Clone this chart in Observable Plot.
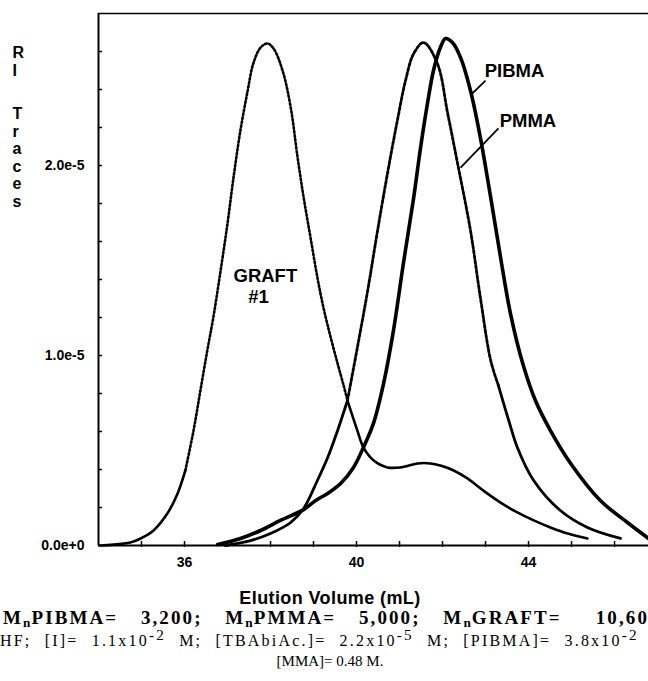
<!DOCTYPE html>
<html>
<head>
<meta charset="utf-8">
<script src="https://cdn.jsdelivr.net/npm/d3@7"></script>
<script src="https://cdn.jsdelivr.net/npm/@observablehq/plot@0.6"></script>
<style>
html, body { margin: 0; padding: 0; background: #fff; width: 648px; height: 681px; overflow: hidden; }
#chart svg { display: block; }
.cap { position: relative; width: 648px; height: 106px; overflow: hidden; color: #000; }
.cap div { position: absolute; white-space: nowrap; line-height: 20px; }
.xl { font: bold 18px "Liberation Sans", Arial, sans-serif; letter-spacing: 0.4px; left: 0; width: 660px; text-align: center; top: 13px; }
.l1 { font: bold 19px "Liberation Serif", "Times New Roman", serif; letter-spacing: 2.1px; word-spacing: 4.5px; left: 3px; top: 33px; }
.l2 { font: 16px "Liberation Serif", "Times New Roman", serif; letter-spacing: 2.2px; word-spacing: 7px; left: -12px; top: 56px; }
.l3 { font: 15px "Liberation Serif", "Times New Roman", serif; left: 0; width: 660px; text-align: center; top: 76px; }
sub { font-size: 70%; vertical-align: -0.2em; line-height: 0; letter-spacing: 1px; }
sup { font-size: 95%; vertical-align: 0.4em; line-height: 0; }
</style>
</head>
<body>
<div id="chart"></div>
<div class="cap">
  <div class="xl">Elution Volume (mL)</div>
  <div class="l1">M<sub>n</sub>PIBMA=&nbsp; 3,200;&nbsp; M<sub>n</sub>PMMA=&nbsp; 5,000;&nbsp; M<sub>n</sub>GRAFT=&nbsp;&nbsp; 10,600</div>
  <div class="l2">THF; [I]= 1.1x10<sup>-2</sup> M; [TBAbiAc.]= 2.2x10<sup>-5</sup> M; [PIBMA]= 3.8x10<sup>-2</sup> M;</div>
  <div class="l3">[MMA]= 0.48 M.</div>
</div>
<script>
// Elution volume (mL) and RI trace (units of 1e-5)
const graftX  = [34.05,34.74,34.98,35.28,35.60,35.84,36.02,36.21,36.37,36.53,36.67,36.84,37.00,37.14,37.30,37.47,37.60,37.77,37.93,38.07,38.28,38.47,38.63,38.77,38.93,39.09,39.23,39.40,39.56,39.70,39.79,40.02,40.16,40.40,40.72,41.02,41.42,41.72,41.95,42.26,42.58,42.95,43.35,43.74,44.12,44.51,44.91,45.37];
const graftRI = [0.000,0.016,0.037,0.079,0.168,0.274,0.395,0.605,0.816,1.026,1.200,1.447,1.695,1.937,2.184,2.395,2.537,2.621,2.642,2.616,2.500,2.305,2.042,1.832,1.621,1.411,1.253,1.095,0.958,0.842,0.763,0.605,0.516,0.447,0.411,0.411,0.432,0.432,0.421,0.395,0.353,0.289,0.226,0.174,0.132,0.095,0.063,0.037];

const pmmaX  = [36.95,37.54,38.00,38.47,38.77,39.09,39.33,39.56,39.79,40.02,40.26,40.49,40.72,40.95,41.14,41.33,41.56,41.88,42.12,42.35,42.65,42.88,43.12,43.30,43.54,43.74,44.12,44.74,45.37,46.14];
const pmmaRI = [0.000,0.026,0.063,0.121,0.195,0.342,0.463,0.605,0.763,1.042,1.342,1.658,1.958,2.237,2.447,2.589,2.647,2.537,2.274,2.011,1.658,1.305,0.974,0.842,0.658,0.516,0.342,0.184,0.095,0.037];

const pibmaX  = [36.77,37.30,37.77,38.23,38.77,39.05,39.33,39.63,39.93,40.16,40.40,40.63,40.86,41.09,41.33,41.49,41.65,41.79,41.95,42.07,42.23,42.42,42.65,42.88,43.12,43.35,43.58,43.88,44.16,44.51,44.98,45.67,46.30,46.79];
const pibmaRI = [0.005,0.037,0.079,0.132,0.189,0.237,0.274,0.326,0.411,0.516,0.647,0.853,1.132,1.484,1.832,2.095,2.326,2.500,2.621,2.668,2.647,2.568,2.395,2.147,1.832,1.516,1.221,0.947,0.763,0.605,0.432,0.237,0.121,0.037];

const yTickValues = [0, 1e-5, 2e-5];
const yTickLabels = ["0.0e+0", "1.0e-5", "2.0e-5"];
const yMinorTicks = [0,2e-6,4e-6,6e-6,8e-6,1e-5,1.2e-5,1.4e-5,1.6e-5,1.8e-5,2e-5,2.2e-5,2.4e-5,2.6e-5];
const xTickValues = [36, 40, 44];
const xTickLabels = ["36", "40", "44"];
const xMinorTicks = [35,36,37,38,39,40,41,42,43,44,45,46];
const yAxisWords = ["R\nI", "T\nr\na\nc\ne\ns"];

// annotation anchors in data space (mL, RI units of 1e-5)
const seriesLabels = ["PIBMA", "PMMA"];
const seriesLabelX = [42.98, 43.33];
const seriesLabelRI = [2.495, 2.232];
const graftLabels = ["GRAFT", "#1"];
const graftLabelX = [37.88, 37.72];
const graftLabelRI = [1.416, 1.31];
const leaderX1 = [43.00, 43.30], leaderRI1 = [2.447, 2.195];
const leaderX2 = [42.67, 42.42], leaderRI2 = [2.374, 1.989];

const rows = (xs, ys) => xs.map((x, i) => ({x, y: ys[i] * 1e-5}));
const graft = rows(graftX, graftRI);
const pmma = rows(pmmaX, pmmaRI);
const pibma = rows(pibmaX, pibmaRI);
const sLabels = seriesLabels.map((t, i) => ({t, x: seriesLabelX[i], y: seriesLabelRI[i] * 1e-5}));
const gLabels = graftLabels.map((t, i) => ({t, x: graftLabelX[i], y: graftLabelRI[i] * 1e-5}));
const leaders = leaderX1.map((x, i) => ({x1: x, y1: leaderRI1[i] * 1e-5, x2: leaderX2[i], y2: leaderRI2[i] * 1e-5}));

const W = 648, H = 575, mL = 98, mR = 0, mT = 13, mB = 30;
const plotW = W - mL - mR, plotH = H - mT - mB;

const ySeg = (cond) => (d) => cond(d) ? d.y : NaN;
const ylabStyle = {frameAnchor: "top-left", dx: -86, lineAnchor: "top", textAnchor: "start", fontSize: 16, fontWeight: "bold", lineHeight: 1.1};

const chart = Plot.plot({
  width: W, height: H,
  marginLeft: mL, marginRight: mR, marginTop: mT, marginBottom: mB,
  x: {domain: [34, 46.79]},
  y: {domain: [0, 2.8e-5]},
  style: {fontFamily: "'Liberation Sans', Arial, sans-serif", fontSize: "14px", fontWeight: "bold", color: "#000", background: "#fff"},
  marks: [
    Plot.axisY(yTickValues, {tickSize: 0, tickPadding: 14, tickFormat: (d, i) => yTickLabels[i], label: null, fontWeight: "bold", fontSize: 14}),
    Plot.axisX(xTickValues, {tickSize: 0, tickPadding: 12, tickFormat: (d, i) => xTickLabels[i], label: null, fontWeight: "bold", fontSize: 14}),
    Plot.tickY(yMinorTicks, {y: d => d, insetRight: plotW - 4, strokeWidth: 1.5}),
    Plot.tickX(xMinorTicks, {x: d => d, insetTop: plotH - 4, insetBottom: -2, strokeWidth: 1.5}),
    Plot.ruleX([34], {strokeWidth: 2}),
    Plot.ruleY([0], {strokeWidth: 2}),
    Plot.ruleY([2.8e-5], {strokeWidth: 1.6}),
    // GRAFT #1: dotted on the main peak, solid on the tails and shoulder
    Plot.line(graft, {x: "x", y: ySeg(d => d.x <= 36.05 || d.x >= 39.75), curve: "catmull-rom", strokeWidth: 2.6}),
    Plot.line(graft, {x: "x", y: ySeg(d => d.x >= 36.0 && d.x <= 39.8), curve: "catmull-rom", strokeWidth: 2.6, strokeDasharray: "1.8,2.2"}),
    // PMMA: dashed on upper flanks, solid below
    Plot.line(pmma, {x: "x", y: ySeg(d => d.y <= 0.85e-5), curve: "catmull-rom", strokeWidth: 2.8}),
    Plot.line(pmma, {x: "x", y: ySeg(d => d.y >= 0.76e-5), curve: "catmull-rom", strokeWidth: 2.8, strokeDasharray: "3,2"}),
    // PIBMA: thick solid
    Plot.line(pibma, {x: "x", y: "y", curve: "catmull-rom", strokeWidth: 3.6}),
    Plot.link(leaders, {x1: "x1", y1: "y1", x2: "x2", y2: "y2", strokeWidth: 1.8}),
    Plot.text(sLabels, {x: "x", y: "y", text: "t", textAnchor: "start", fontSize: 18.5, fontWeight: "bold"}),
    Plot.text(gLabels, {x: "x", y: "y", text: "t", textAnchor: "middle", fontSize: 18.5, fontWeight: "bold"}),
    Plot.text([yAxisWords[0]], {...ylabStyle, dy: 32}),
    Plot.text([yAxisWords[1]], {...ylabStyle, dy: 93})
  ]
});
document.getElementById("chart").appendChild(chart);
</script>
</body>
</html>
